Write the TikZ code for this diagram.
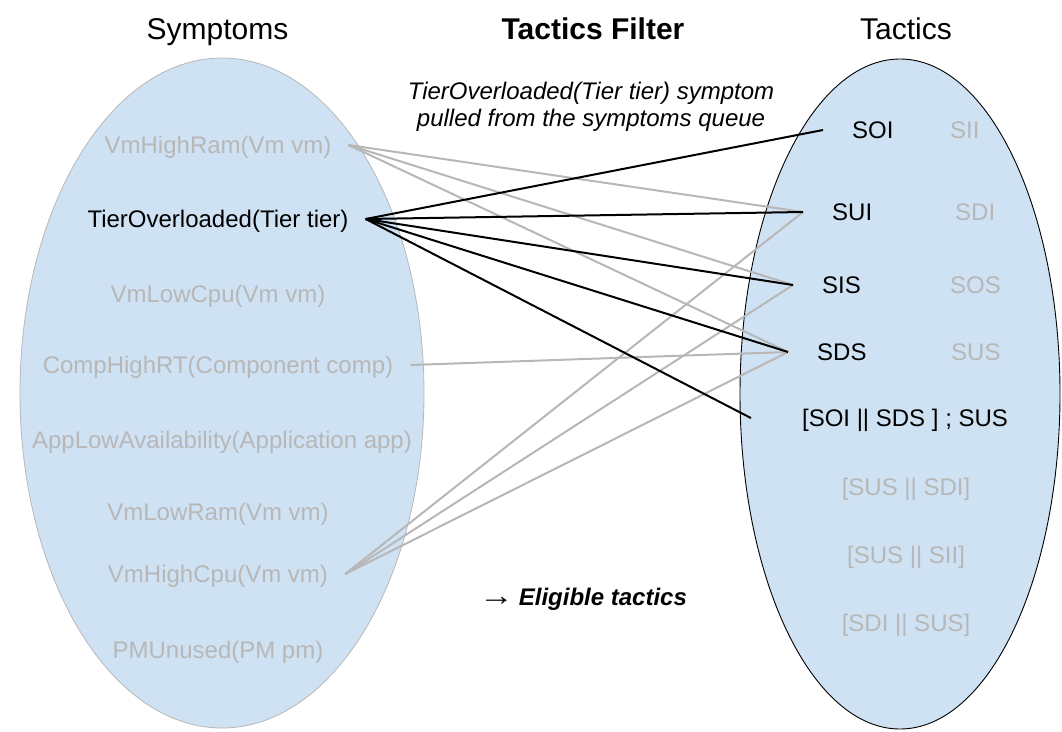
\documentclass[tikz,border=0pt]{standalone}
\usepackage{fontspec}
\usepackage{graphicx}
\setmainfont{Liberation Sans}
\definecolor{fillblue}{HTML}{CFE2F3}
\definecolor{lgray}{HTML}{B7B7B7}
\begin{document}
\begin{tikzpicture}[x=1pt,y=-1pt,
  every node/.style={font=\fontsize{24}{27}\selectfont, inner sep=0pt},
  ttl/.style={font=\fontsize{30}{34}\selectfont, anchor=base},
  sym/.style={text height=17.5pt, text depth=0pt, inner xsep=17pt, inner ysep=0pt},
  tac/.style={text height=17.5pt, text depth=0pt, inner xsep=29pt, inner ysep=0pt, anchor=west},
  off/.style={text=lgray},
  on/.style={text=black},
  blk/.style={draw=black, line width=2pt},
  gry/.style={draw=lgray, line width=2pt}]
\useasboundingbox (0,0) rectangle (1062,731);
% sets
\filldraw[fill=fillblue, draw=lgray, line width=0.8pt] (222,393) ellipse [x radius=202, y radius=335];
\filldraw[fill=fillblue, draw=black, line width=0.9pt] (900,394) ellipse [x radius=160, y radius=335];
% titles
\node[ttl] (tS) at (217.5,39) {Symptoms};
\node[ttl, font=\fontsize{30}{34}\selectfont\bfseries] (tF) at (593,39) {Tactics Filter};
\node[ttl] (tT) at (906,39) {Tactics};
\node[align=center, font=\fontsize{24}{27}\selectfont\itshape] (note) at (591,107) {TierOverloaded(Tier tier) symptom\\pulled from the symptoms queue};
% symptoms
\node[sym, off] (s1) at (218,145) {VmHighRam(Vm vm)};
\node[sym, on]  (s2) at (218,219) {TierOverloaded(Tier tier)};
\node[sym, off] (s3) at (218,294) {VmLowCpu(Vm vm)};
\node[sym, off] (s4) at (218,365) {CompHighRT(Component comp)};
\node[sym, off] (s5) at (222,440) {AppLowAvailability(Application app)};
\node[sym, off] (s6) at (218,512) {VmLowRam(Vm vm)};
\node[sym, off] (s7) at (218,574) {VmHighCpu(Vm vm)};
\node[sym, off] (s8) at (218,650) {PMUnused(PM pm)};
% tactics
\node[tac, on]  (soi) at (823,130) {SOI};
\node[tac, off] (sii) at (921,130) {SII};
\node[tac, on]  (sui) at (803,212) {SUI};
\node[tac, off] (sdi) at (926,212) {SDI};
\node[tac, on]  (sis) at (793,285) {SIS};
\node[tac, off] (sos) at (921,285) {SOS};
\node[tac, on]  (sds) at (788,352) {SDS};
\node[tac, off] (sus) at (922,352) {SUS};
\node[tac, anchor=center, on]  (c1) at (905,418) {[SOI || SDS ] ; SUS};
\node[tac, anchor=center, off] (c2) at (906,487) {[SUS || SDI]};
\node[tac, anchor=center, off] (c3) at (906,555) {[SUS || SII]};
\node[tac, anchor=center, off] (c4) at (906,623) {[SDI || SUS]};
\node[anchor=base] (elig) at (583,605) {\scalebox{1.45}[1.2]{→}\hspace{5pt}\textbf{\textit{Eligible tactics}}};
% connectors
\draw[gry] (s1.east) -- (sui.west);
\draw[gry] (s1.east) -- (sis.west);
\draw[gry] (s1.east) -- (sds.west);
\draw[gry] (s4.east) -- (sds.west);
\draw[gry] (s7.east) -- (sui.west);
\draw[gry] (s7.east) -- (sis.west);
\draw[gry] (s7.east) -- (sds.west);
\draw[blk] (s2.east) -- (soi.west);
\draw[blk] (s2.east) -- (sui.west);
\draw[blk] (s2.east) -- (sis.west);
\draw[blk] (s2.east) -- (sds.west);
\draw[blk] (s2.east) -- ([xshift=-22pt]c1.west);
\end{tikzpicture}
\end{document}
